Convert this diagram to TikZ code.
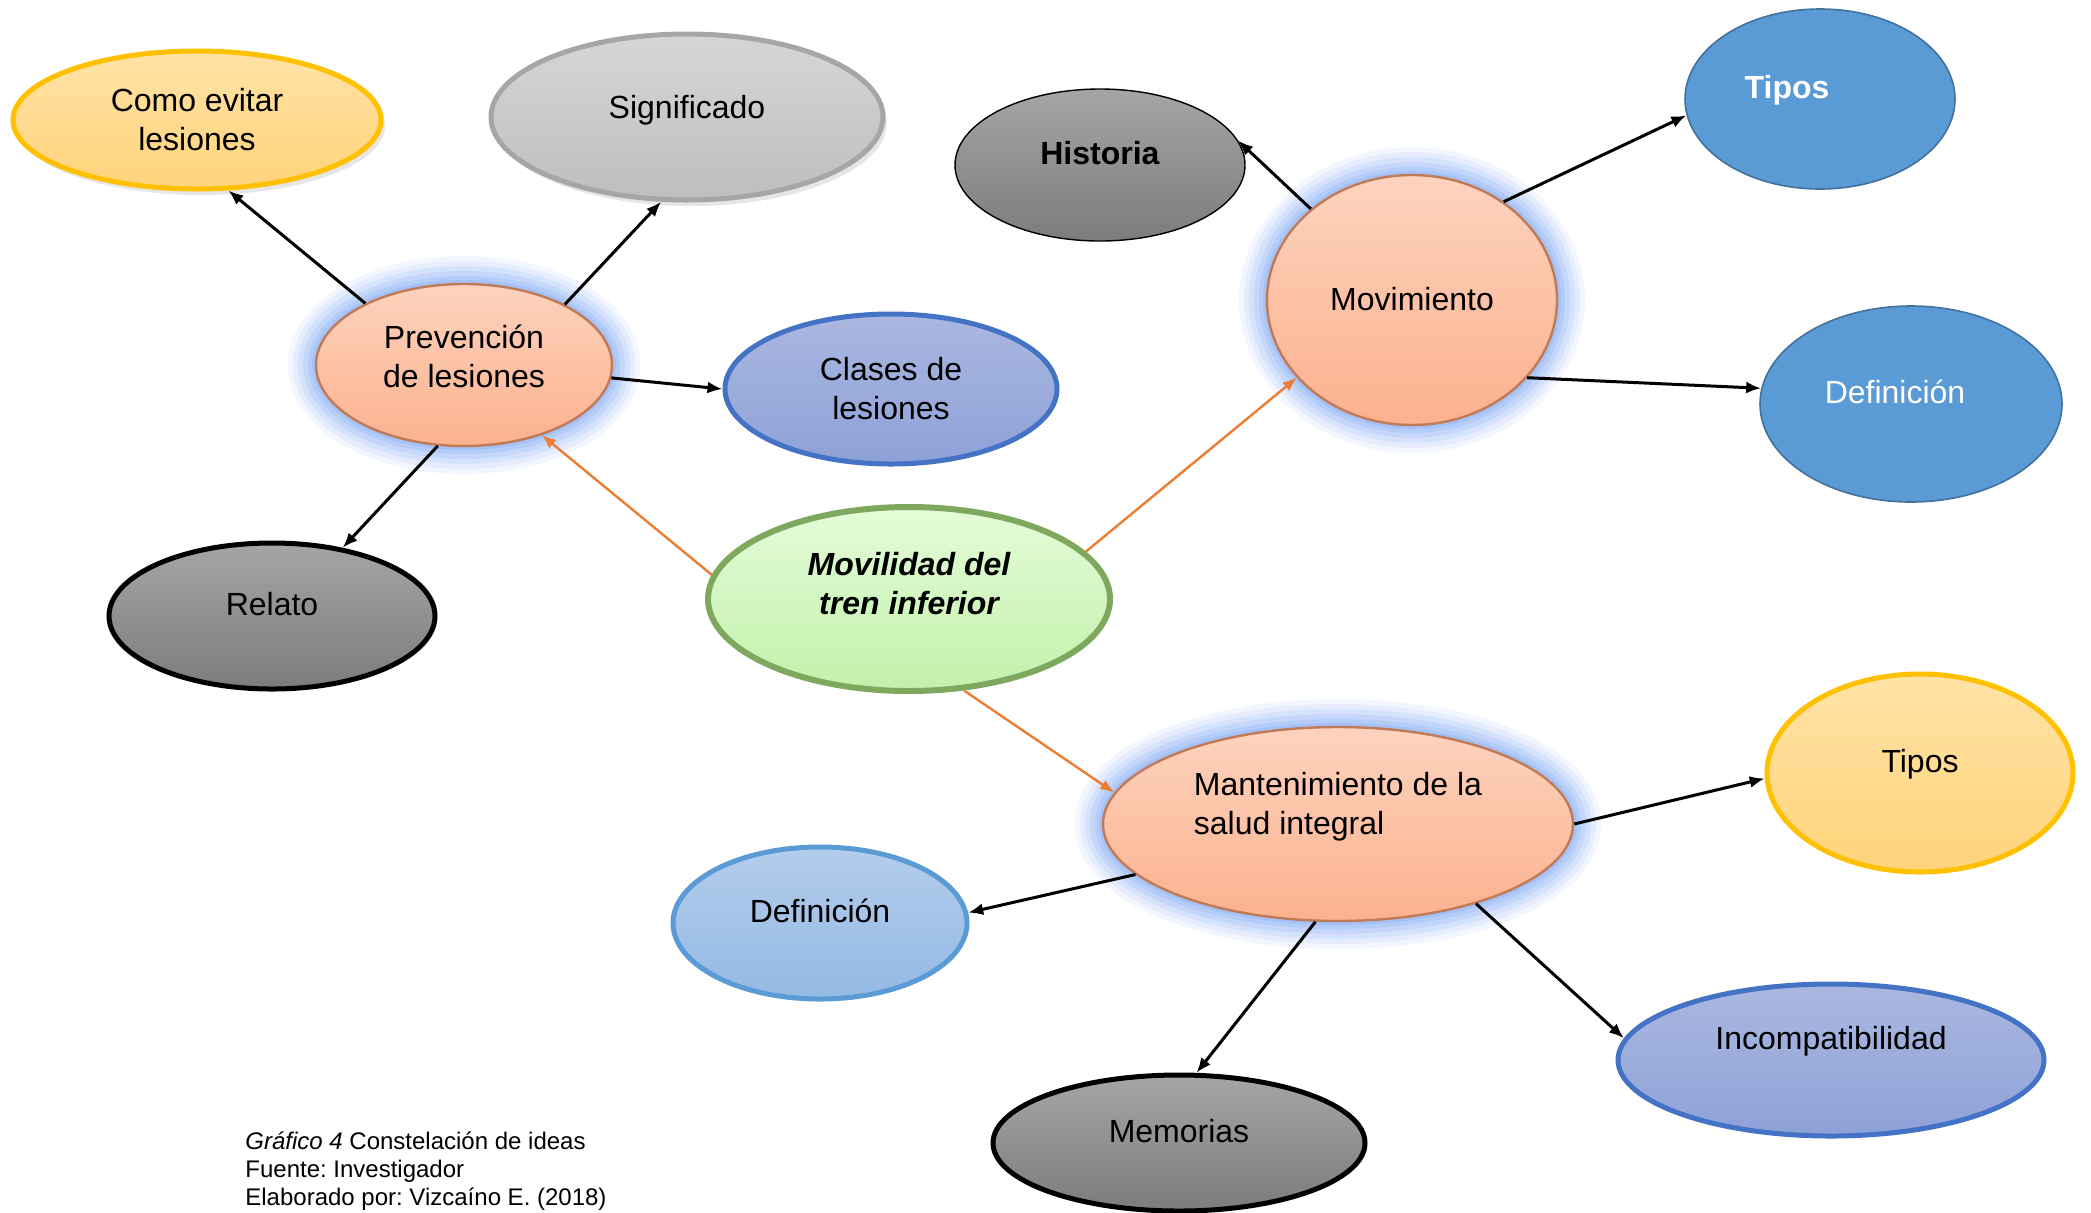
\documentclass[tikz,border=0pt]{standalone}
\usepackage{fontspec}
\setmainfont{Liberation Sans}
\usepackage{tikz}
\usetikzlibrary{arrows.meta}
\usetikzlibrary{shapes}
\usetikzlibrary{shadows}
\frenchspacing

\definecolor{salmonlt}{HTML}{FDD3BE}
\definecolor{salmon}{HTML}{FBB18E}
\definecolor{salmonrim}{HTML}{C07A55}
\definecolor{glowblue}{HTML}{6E9CF2}
\definecolor{greenlt}{HTML}{E3FCD8}
\definecolor{greendk}{HTML}{C2F1AB}
\definecolor{greenrim}{HTML}{7EA85E}
\definecolor{goldlt}{HTML}{FFE3A6}
\definecolor{golddk}{HTML}{FFD37A}
\definecolor{goldrim}{HTML}{FFC000}
\definecolor{greylt}{HTML}{D6D6D6}
\definecolor{greydk}{HTML}{BEBEBE}
\definecolor{greyrim}{HTML}{A6A6A6}
\definecolor{darklt}{HTML}{A5A5A5}
\definecolor{darkdk}{HTML}{7C7C7C}
\definecolor{lavlt}{HTML}{AAB8E0}
\definecolor{lavdk}{HTML}{8EA1D8}
\definecolor{lavrim}{HTML}{4472C4}
\definecolor{skylt}{HTML}{B3CDEC}
\definecolor{skydk}{HTML}{94B9E4}
\definecolor{skyrim}{HTML}{5B9BD5}
\definecolor{steel}{HTML}{5B9BD5}
\definecolor{steelrim}{HTML}{41719C}
\definecolor{arroworange}{HTML}{ED7D31}

% text of an idea, moved by dx and dy from the centre
\newcommand{\ntxt}[3]{\raisebox{\dimexpr#2-5.8pt\relax}[0pt][0pt]{\makebox[0pt]{\kern#1\kern#1\begin{tabular}{@{}c@{}}#3\end{tabular}}}}

\tikzset{%
  every idea/.style={
    ellipse,
    inner sep=0pt,
    text=black,
    font=\fontsize{16}{19.5}\selectfont
  },
  glow/.style={
    preaction={draw=glowblue, line width=28pt, opacity=0.09},
    preaction={draw=glowblue, line width=23pt, opacity=0.11},
    preaction={draw=glowblue, line width=18pt, opacity=0.13},
    preaction={draw=glowblue, line width=13pt, opacity=0.16},
    preaction={draw=glowblue, line width=8pt, opacity=0.19},
    preaction={draw=glowblue, line width=4pt, opacity=0.22}
  },
  core/.style={every idea, glow, top color=salmonlt, bottom color=salmon,
    draw=salmonrim, line width=1.2pt},
  root/.style={every idea, top color=greenlt, bottom color=greendk,
    draw=greenrim, line width=3pt,
    font=\fontsize{16}{19.5}\selectfont\bfseries\itshape},
  gold/.style={every idea, top color=goldlt, bottom color=golddk,
    draw=goldrim, line width=2.5pt},
  silver/.style={every idea, top color=greylt, bottom color=greydk,
    draw=greyrim, line width=2.5pt},
  dark/.style={every idea, top color=darklt, bottom color=darkdk,
    draw=black, line width=2.5pt},
  lavender/.style={every idea, top color=lavlt, bottom color=lavdk,
    draw=lavrim, line width=2.5pt},
  sky/.style={every idea, top color=skylt, bottom color=skydk,
    draw=skyrim, line width=2.5pt},
  steelbox/.style={every idea, fill=steel, draw=steelrim, line width=0.8pt,
    text=white},
  soft shadow/.style={drop shadow={shadow xshift=2pt, shadow yshift=-3pt,
    opacity=0.2}},
  link/.style={-{Latex[length=7.5pt,width=6pt]}, line width=1.5pt, black},
  root link/.style={-{Latex[length=7pt,width=5.5pt]}, line width=1.2pt,
    arroworange},
}

\begin{document}
\begin{tikzpicture}[x=0.5pt,y=-0.5pt]
  \useasboundingbox (0,0) rectangle (2091,1212);

  \node (como) [gold, soft shadow, minimum width=184pt, minimum height=69pt]
    at (197,120) {\ntxt{0pt}{0pt}{Como evitar\\lesiones}};
  \node (signif) [silver, soft shadow, minimum width=196pt, minimum height=83pt]
    at (687,117) {\ntxt{0pt}{4.5pt}{Significado}};
  \node (hist) [dark, line width=0.7pt, minimum width=145pt, minimum height=76pt]
    at (1100,165) {\ntxt{0pt}{5.5pt}{\textbf{Historia}}};
  \node (tiposa) [steelbox, minimum width=135pt, minimum height=90pt]
    at (1820,99) {\ntxt{-16.5pt}{5.5pt}{\textbf{Tipos}}};
  \node (mov) [core, minimum width=145pt, minimum height=125pt]
    at (1412,300) {\ntxt{0pt}{0pt}{Movimiento}};
  \node (defa) [steelbox, minimum width=151pt, minimum height=98pt]
    at (1911,404) {\ntxt{-8pt}{5.5pt}{Definición}};
  \node (prev) [core, minimum width=148pt, minimum height=81pt]
    at (464,365) {\ntxt{0pt}{4pt}{Prevención\\de lesiones}};
  \node (clases) [lavender, minimum width=166pt, minimum height=75pt]
    at (891,389) {\ntxt{0pt}{0pt}{Clases de\\lesiones}};
  \node (relato) [dark, minimum width=163pt, minimum height=73pt]
    at (272,616) {\ntxt{0pt}{5.5pt}{Relato}};
  \node (movil) [root, minimum width=201pt, minimum height=92pt]
    at (909,599) {\ntxt{0pt}{7.5pt}{Movilidad del\\tren inferior}};
  \node (mant) [core, minimum width=235pt, minimum height=97pt]
    at (1338,824) {\ntxt{0pt}{10pt}{\begin{tabular}{@{}l@{}}Mantenimiento de la\\salud integral\end{tabular}}};
  \node (tiposb) [gold, minimum width=153pt, minimum height=99pt]
    at (1920,773) {\ntxt{0pt}{5.5pt}{Tipos}};
  \node (defb) [sky, minimum width=147pt, minimum height=76pt]
    at (820,923) {\ntxt{0pt}{5.5pt}{Definición}};
  \node (incomp) [lavender, minimum width=213pt, minimum height=76pt]
    at (1831,1060) {\ntxt{0pt}{10.5pt}{Incompatibilidad}};
  \node (memo) [dark, minimum width=186pt, minimum height=68pt]
    at (1179,1143) {\ntxt{0pt}{5.5pt}{Memorias}};

  \node (capt) [anchor=north west, align=left, inner sep=0pt,
    font=\fontsize{12}{14}\selectfont] at (245,1131)
    {\textit{Gráfico 4} Constelación de ideas\\Fuente: Investigador\\Elaborado por: Vizcaíno E. (2018)};

  \draw [root link] (movil.173) -- (prev.318);
  \draw [root link] (movil.15) -- (mov.214);
  \draw [root link] (movil.-59) -- (mant.172);

  \draw [link] (prev.148) -- (como.294);
  \draw [link] (prev.31) -- (signif.253);
  \draw [link] (prev.-5) -- (clases.180);
  \draw [link] (prev.252) -- (relato.44);

  \draw [link] (mov.138) -- (hist.10);
  \draw [link] (mov.47) -- (tiposa.187);
  \draw [link] (mov.-34) -- (defa.174);

  \draw [link] (mant.0) -- (tiposb.182);
  \draw [link] (mant.194) -- (defb.4);
  \draw [link] (mant.257) -- (memo.76);
  \draw [link] (mant.330) -- (incomp.174);
\end{tikzpicture}
\end{document}
